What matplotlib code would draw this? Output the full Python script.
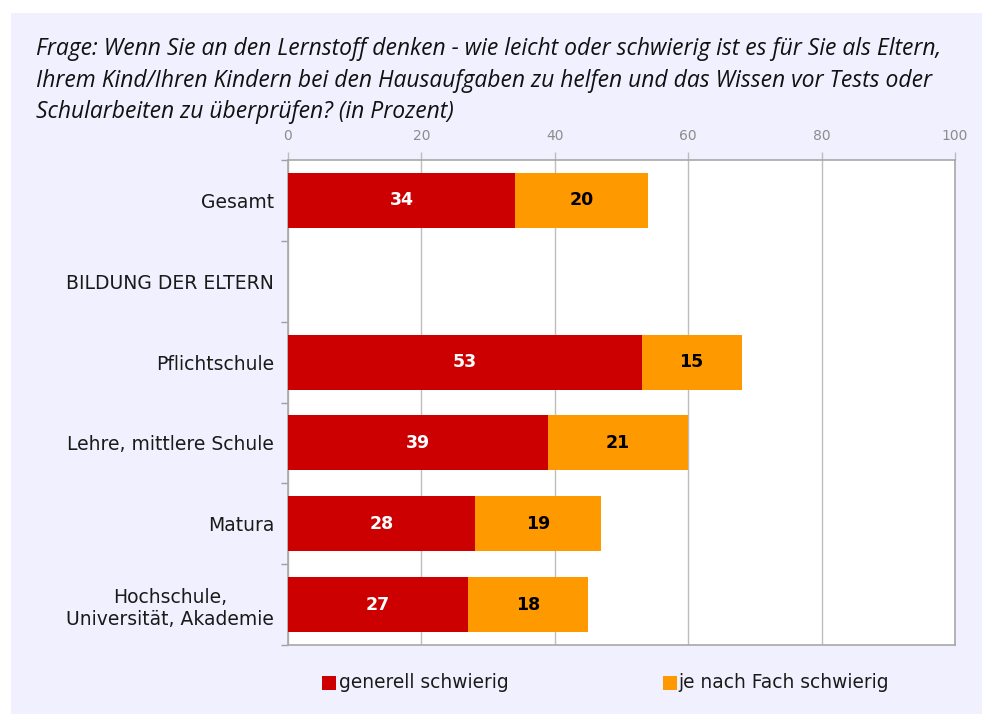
import matplotlib
matplotlib.use("Agg")
import matplotlib.pyplot as plt
from matplotlib.patches import Rectangle
import numpy as np

categories = ["Gesamt", "BILDUNG DER ELTERN", "Pflichtschule", "Lehre, mittlere Schule",
              "Matura", "Hochschule,\nUniversität, Akademie"]
generell = [34, None, 53, 39, 28, 27]
je_nach_fach = [20, None, 15, 21, 19, 18]
series_names = ["generell schwierig", "je nach Fach schwierig"]
x_ticks = [0, 20, 40, 60, 80, 100]
title_lines = [
    "Frage: Wenn Sie an den Lernstoff denken - wie leicht oder schwierig ist es für Sie als Eltern,",
    "Ihrem Kind/Ihren Kindern bei den Hausaufgaben zu helfen und das Wissen vor Tests oder",
    "Schularbeiten zu überprüfen? (in Prozent)",
]

RED = "#CC0000"
ORANGE = "#FF9900"
PANEL = "#F0F0FE"
GRID = "#BDBDBD"

W, H = 982, 714
fig = plt.figure(figsize=(W / 100, H / 100), dpi=100)
fig.patch.set_facecolor("white")
fig.patches.append(Rectangle((11 / W, 0), 1 - 11 / W, (H - 13) / H, transform=fig.transFigure,
                             facecolor=PANEL, edgecolor="none", zorder=-10))

ax = fig.add_axes([288 / W, (H - 645) / H, (955 - 288) / W, (645 - 160) / H])
ax.set_zorder(2)
ax.set_facecolor("white")

n = len(categories)
y = np.arange(n)
g = np.array([v if v is not None else 0 for v in generell], dtype=float)
j = np.array([v if v is not None else 0 for v in je_nach_fach], dtype=float)
h = 0.68
ax.barh(y, g, height=h, color=RED, zorder=3)
ax.barh(y, j, left=g, height=h, color=ORANGE, zorder=3)
for yi, gv, jv in zip(y, generell, je_nach_fach):
    if gv is not None:
        ax.text(gv / 2, yi, str(gv), ha="center", va="center", color="white",
                fontsize=12.5, fontweight="bold", zorder=4)
    if jv is not None:
        ax.text(gv + jv / 2, yi, str(jv), ha="center", va="center", color="black",
                fontsize=12.5, fontweight="bold", zorder=4)

ax.set_xlim(0, 100)
ax.set_ylim(n - 0.5, -0.5)
ax.xaxis.tick_top()
ax.set_xticks(x_ticks)
ax.set_xticklabels([str(t) for t in x_ticks])
ax.tick_params(axis="x", colors="#8C8C8C", labelsize=10, length=6, width=1, pad=6, color=GRID)
ax.xaxis.grid(True, color=GRID, linewidth=1, zorder=1)
ax.set_yticks(y)
ax.set_yticklabels(categories, multialignment="center")
ax.tick_params(axis="y", which="major", length=0, pad=10, labelsize=13.5, labelcolor="#1a1a1a")
ax.set_yticks(np.arange(n + 1) - 0.5, minor=True)
ax.tick_params(axis="y", which="minor", length=5, width=1, color="#A0A0A0")
for s in ax.spines.values():
    s.set_color("#A8A8A8")
    s.set_linewidth(1.2)
ax.set_axisbelow(True)

ty = [55, 87, 118]
for line, yy in zip(title_lines, ty):
    fig.text(36 / W, 1 - yy / H, line, fontsize=16.5, style="italic", family="Open Sans",
             color="#111111", va="baseline", ha="left")

# legend
leg_y = 1 - 683 / H
fig.patches.append(Rectangle((322 / W, leg_y - 7 / H), 14 / W, 14 / H, transform=fig.transFigure,
                             facecolor=RED, edgecolor="none"))
fig.text(339 / W, leg_y, series_names[0], fontsize=13.4, va="center", ha="left", color="#1a1a1a")
fig.patches.append(Rectangle((663 / W, leg_y - 7 / H), 14 / W, 14 / H, transform=fig.transFigure,
                             facecolor=ORANGE, edgecolor="none"))
fig.text(678 / W, leg_y, series_names[1], fontsize=13.4, va="center", ha="left", color="#1a1a1a")

fig.savefig("out.png", dpi=100, facecolor=fig.get_facecolor())
